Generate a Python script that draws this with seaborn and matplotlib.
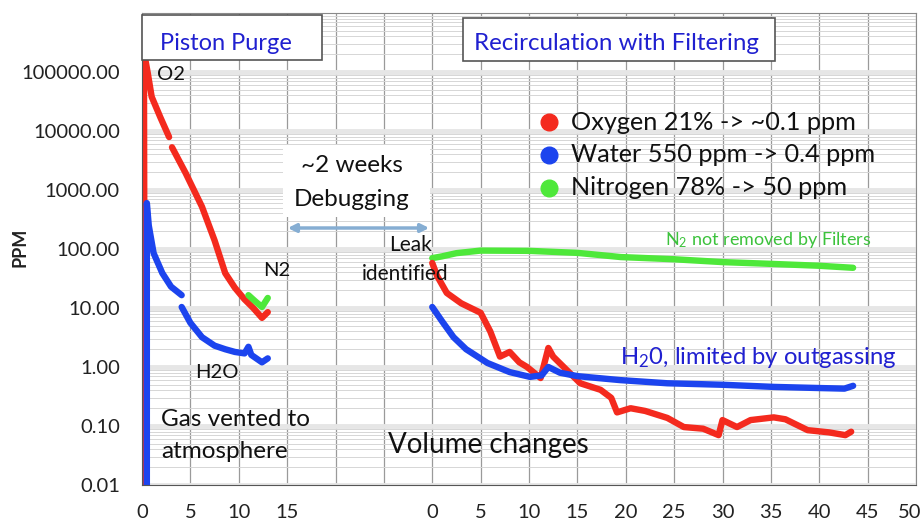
import numpy as np
import seaborn as sns
import matplotlib
matplotlib.use('Agg')
from matplotlib import pyplot as plt
from matplotlib.patches import Rectangle, FancyArrowPatch
from matplotlib.transforms import ScaledTranslation
from matplotlib.ticker import FixedLocator, FuncFormatter, LogLocator, NullFormatter

# ---------- data ----------
# piston purge part, x in hours 0..15
o2_purge_a_x = [0.3, 0.2, 0.6, 1.0, 1.9, 2.8]
o2_purge_a_y = [0.001, 220000, 95000, 38000, 17000, 7900]
o2_purge_b_x = [3.1, 4.5, 6.2, 7.5, 8.6, 9.6, 10.6, 11.5, 12.4, 13.0]
o2_purge_b_y = [5300, 1950, 520, 140, 39, 22, 14, 10, 6.8, 8.5]

h2o_purge_a_x = [0.5, 0.5, 0.7, 1.2, 2.1, 3.0, 4.1]
h2o_purge_a_y = [0.001, 600, 250, 85, 39, 23, 16.5]
h2o_purge_b_x = [4.1, 5.0, 6.2, 7.5, 8.6, 9.6, 10.6, 11.0, 11.3, 12.4, 13.0]
h2o_purge_b_y = [10.4, 5.6, 3.2, 2.3, 2.0, 1.8, 1.7, 2.2, 1.6, 1.2, 1.4]

n2_purge_x = [11.0, 11.7, 12.4, 13.0]
n2_purge_y = [16.5, 13, 10.4, 14.8]

# recirculation part, x in hours 0..50
o2_recirc_x = [0, 0.5, 1.5, 3, 5, 6, 7, 8, 9, 9.8, 11.2, 12, 12.5, 13.9, 15.3, 17.4, 18.5,
               19.1, 20.5, 22, 24.3, 26, 28, 29.6, 30, 31.5, 32.9, 35.3, 36.5, 38.8, 41, 42.7, 43.3]
o2_recirc_y = [58, 35, 18, 12, 8.3, 4, 1.5, 1.8, 1.2, 1.0, 0.65, 2.1, 1.5, 0.89, 0.53, 0.41, 0.3,
               0.17, 0.2, 0.18, 0.137, 0.096, 0.09, 0.07, 0.126, 0.096, 0.126, 0.14, 0.13, 0.085, 0.078, 0.07, 0.08]

h2o_recirc_x = [0, 1, 2.2, 3.5, 5.7, 8, 10.1, 11.3, 12, 13.2, 15, 19.4, 24.3, 30, 35.3, 40, 42.6, 43.5]
h2o_recirc_y = [10.4, 6, 3.2, 2.0, 1.17, 0.82, 0.68, 0.72, 1.0, 0.8, 0.7, 0.6, 0.53, 0.5, 0.46, 0.44, 0.43, 0.48]

n2_recirc_x = [0, 1, 2.5, 5, 10, 15, 19.5, 25, 30, 35, 40, 43.5]
n2_recirc_y = [70, 75, 85, 94, 93, 86, 73, 67, 60, 56, 52, 48]

x_tick_labels = ['0', '5', '10', '15', '', '', '0', '5', '10', '15', '20', '25', '30', '35', '40', '45', '50']
y_ticks = [0.01, 0.1, 1, 10, 100, 1000, 10000, 100000]

legend_labels = ['Oxygen 21% -> ~0.1 ppm', 'Water 550 ppm -> 0.4 ppm', 'Nitrogen 78% -> 50 ppm']

# ---------- style ----------
RED = '#f42a1e'
BLUE = '#1c44ee'
GREEN = '#4ee83a'
TXT_BLUE = '#2020d0'
INK = '#111111'
RECIRC_OFFSET = 30  # second segment starts at grid line 30

sns.set_style('white')
plt.rcParams['font.family'] = ['Lato', 'DejaVu Sans']
plt.rcParams['mathtext.default'] = 'regular'

W, H = 923, 530
fig = plt.figure(figsize=(W / 100, H / 100), dpi=100)
ax = fig.add_axes([142 / W, 1 - 485 / H, (916 - 142) / W, (485 - 13) / H])


def fx(x):
    return x / W


def fy(y):
    return 1 - y / H


def draw(xs, ys, color, offset=0):
    sns.lineplot(x=np.array(xs) + offset, y=ys, color=color, linewidth=4.6, sort=False,
                 estimator=None, ax=ax, solid_capstyle='round', solid_joinstyle='round')


draw(o2_purge_a_x, o2_purge_a_y, RED)
draw(o2_purge_b_x, o2_purge_b_y, RED)
draw(h2o_purge_a_x, h2o_purge_a_y, BLUE)
draw(h2o_purge_b_x, h2o_purge_b_y, BLUE)
draw(n2_purge_x, n2_purge_y, GREEN)
draw(n2_recirc_x, n2_recirc_y, GREEN, RECIRC_OFFSET)
draw(o2_recirc_x, o2_recirc_y, RED, RECIRC_OFFSET)
draw(h2o_recirc_x, h2o_recirc_y, BLUE, RECIRC_OFFSET)

ax.set_yscale('log')
ax.set_xlim(0, 80)
ax.set_ylim(0.01, 1e6)

ax.xaxis.set_major_locator(FixedLocator(np.arange(0, 81, 5)))
ax.set_xticklabels(x_tick_labels, fontsize=14.5, color='#222222')
ax.xaxis.set_minor_locator(FixedLocator(np.arange(0, 81, 1)))
ax.tick_params(axis='x', which='major', direction='inout', length=8, color='#555555', pad=10)
ax.tick_params(axis='x', which='minor', direction='in', length=4, color='#555555')
# last label sits a little inside the right edge, as in the source
ax.get_xticklabels()[-1].set_transform(ax.get_xticklabels()[-1].get_transform()
                                       + ScaledTranslation(-6 / 100, 0, fig.dpi_scale_trans))

ax.yaxis.set_major_locator(FixedLocator(y_ticks))
ax.yaxis.set_major_formatter(FuncFormatter(lambda v, p: f'{v:.2f}'))
ax.yaxis.set_minor_locator(LogLocator(base=10, subs=np.arange(2, 10)))
ax.yaxis.set_minor_formatter(NullFormatter())
ax.tick_params(axis='y', which='major', direction='out', length=6, color='#555555',
               labelsize=14.5, labelcolor='#222222', pad=10)
ax.tick_params(axis='y', which='minor', direction='in', length=3, color='#777777')

ax.grid(axis='x', which='major', color='#9a9a9a', linewidth=0.9)
ax.grid(axis='y', which='major', color='#e6e6e6', linewidth=3.5)
ax.grid(axis='y', which='minor', color='#d6d6d6', linewidth=0.7)
ax.set_axisbelow(True)
for s in ax.spines.values():
    s.set_color('#8a8a8a')
ax.spines['left'].set_color('#555555')
ax.spines['bottom'].set_color('#555555')

ax.set_xlabel('')
ax.set_ylabel('')
fig.text(fx(20), fy(247), 'PPM', rotation=90, fontsize=13, fontweight='bold',
         ha='center', va='center', color='#222222')

# title boxes
fig.add_artist(Rectangle((fx(142), fy(60)), (322 - 142) / W, (60 - 15) / H, transform=fig.transFigure,
                         facecolor='white', edgecolor='#555555', linewidth=1.2))
fig.text(fx(160), fy(43), 'Piston Purge', fontsize=17, color=TXT_BLUE, va='center')
fig.add_artist(Rectangle((fx(463), fy(61)), (775 - 463) / W, (61 - 18) / H, transform=fig.transFigure,
                         facecolor='white', edgecolor='#555555', linewidth=1.2))
fig.text(fx(474), fy(43), 'Recirculation with Filtering', fontsize=17.4, color=TXT_BLUE, va='center')

# legend made of dots and text
for i, (lab, col) in enumerate(zip(legend_labels, [RED, BLUE, GREEN])):
    yy = 122 + 33 * i
    fig.lines.append(plt.Line2D([fx(549)], [fy(yy)], marker='o', markersize=12, color=col,
                                linestyle='none', transform=fig.transFigure, figure=fig))
    fig.text(fx(571), fy(yy), lab, fontsize=18.2, color=INK, va='center')

# debugging note
fig.add_artist(Rectangle((fx(283), fy(217)), (430 - 283) / W, (217 - 145) / H, transform=fig.transFigure,
                         facecolor='white', edgecolor='none'))
fig.text(fx(352), fy(166), '~2 weeks', fontsize=17.5, ha='center', va='center', color=INK)
fig.text(fx(352), fy(200), 'Debugging', fontsize=17.5, ha='center', va='center', color=INK)
fig.add_artist(FancyArrowPatch((fx(285), fy(228)), (fx(432), fy(228)), transform=fig.transFigure,
                               arrowstyle='<|-|>', mutation_scale=12, color='#86aed3', linewidth=2.5))

# annotations
fig.text(fx(432), fy(245), 'Leak', fontsize=15, ha='right', va='center', color=INK)
fig.text(fx(362), fy(274), 'identified', fontsize=15, va='center', color=INK)
fig.text(fx(157), fy(75), 'O2', fontsize=14.5, va='center', color=INK)
fig.text(fx(263), fy(270), 'N2', fontsize=14.5, va='center', color=INK)
fig.text(fx(195), fy(372), 'H2O', fontsize=14.5, va='center', color=INK)
fig.text(fx(161), fy(420), 'Gas vented to', fontsize=17.5, va='center', color=INK)
fig.text(fx(161), fy(452), 'atmosphere', fontsize=17.5, va='center', color=INK)
fig.text(fx(388), fy(445), 'Volume changes', fontsize=20, va='center', color=INK)
fig.text(fx(665), fy(240), r'N$_2$ not removed by Filters', fontsize=13, va='center', color='#3cc23c')
fig.text(fx(620), fy(357), r'H$_2$0, limited by outgassing', fontsize=17.2, va='center', color=TXT_BLUE)

fig.savefig('out.png', dpi=100)
